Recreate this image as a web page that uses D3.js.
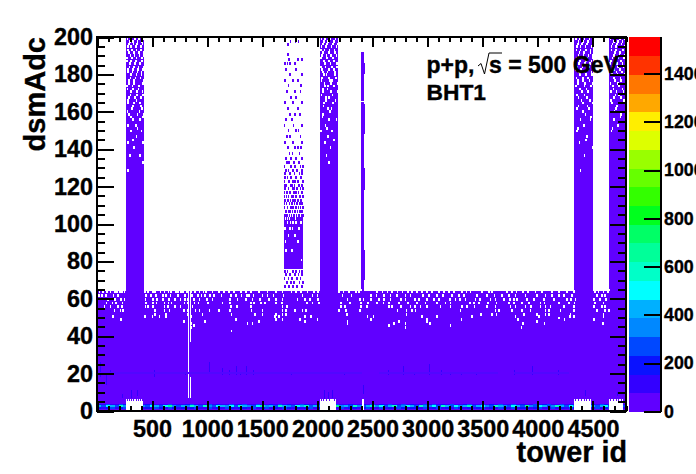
<!DOCTYPE html>
<html><head><meta charset="utf-8">
<script src="https://cdn.jsdelivr.net/npm/d3@7/dist/d3.min.js"></script>
<style>html,body{margin:0;padding:0;background:#fff;overflow:hidden}svg{display:block}
text{font-family:"Liberation Sans",Arial,sans-serif;font-weight:bold;fill:#000;stroke:#000;stroke-width:.35px}</style></head>
<body><svg id="c" width="696" height="474"></svg>
<script>
const xMajor=[0,500,1000,1500,2000,2500,3000,3500,4000,4500];
const xLabels=[500,1000,1500,2000,2500,3000,3500,4000,4500];
const yMajor=[0,20,40,60,80,100,120,140,160,180,200];
const zMajor=[0,200,400,600,800,1000,1200,1400];
const palette=["#6000ff","#3300ff","#0a12ff","#0048ff","#0088ff","#00b0ff","#00ffff","#00ffc8","#00ff99","#00ff66","#00ff1e","#33ff00","#66ff00","#99ff00","#ddff00","#ffee00","#ffa800","#ff7700","#ff3300","#ff0000"];
const zMax=1552;

// filled blocks: tower from, tower to, adc from, adc to
const fieldBlock=[0,4800,0,64];
const towerBlocks=[[263,426,64,200],[2020,2183,64,200],[4330,4500,64,200],[4647,4800,64,200],[1694,1866,76,102]];
const thinBlocks=[[2398,2420,64,165],[2398,2420,166,192],[2412,2430,70,86],[2412,2430,118,130],[2412,2430,148,164],[2412,2430,180,186]];
const emptyBoxes=[[263,420],[2020,2173],[2400,2420],[4330,4480],[4647,4770]];
const boxTop=6.4;
const whiteLines=[[822,832,7,64],[842,852,7,18],[842,852,37,64]];

// white specks inside filled blocks
const speckAdc=[64,63,61,59,57,55,53,51,50,49,48,47,46,45,44,42];
const speckTowers=[
[6,30,60,95,125,160,175,190,205,222,240,440,462,480,505,530,560,590,612,630,655,680,700,735,760,790,825,850,870,900,935,950,985,1010,1060,1105,1120,1150,1190,1220,1255,1290,1310,1350,1380,1400,1430,1480,1520,1550,1585,1625,1660,1700,1740,1770,1810,1850,1880,1920,1955,1990,2195,2215,2250,2300,2330,2352,2385,2500,2520,2560,2600,2640,2700,2740,2790,2830,2880,2925,2965,3010,3060,3115,3170,3210,3270,3320,3360,3400,3470,3520,3590,3640,3700,3745,3780,3830,3880,3920,3985,4040,4100,4160,4215,4270,4310,4505,4530,4555,4590,4620,4640],
[15,45,82,115,157,175,200,217,242,429,453,498,519,568,604,640,664,707,725,755,773,809,846,882,921,960,981,1042,1102,1147,1193,1238,1298,1344,1389,1465,1540,1616,1676,1757,1797,1842,1902,1963,1999,2189,2228,2280,2340,2370,2536,2582,2627,2672,2718,2763,2814,2853,2899,2944,2989,3035,3095,3140,3186,3231,3306,3346,3382,3488,3548,3578,3714,3759,3799,3859,3901,3971,4031,4122,4182,4258,4318,4511,4542,4587,4632],
[12,39,72,142,181,435,483,528,589,619,658,725,791,855,906,942,972,1020,1057,1123,1208,1253,1304,1353,1374,1413,1495,1540,1594,1685,1857,1948,1993,2219,2301,2476,2530,2597,2657,2712,2793,2838,2953,3005,3075,3134,3216,3276,3321,3442,3533,3599,3669,3729,3790,3880,3986,4061,4122,4182,4227,4303,4527,4572,4602],
[91,157,211,242,432,498,538,592,643,701,749,791,815,870,921,991,1042,1202,1268,1344,1404,1474,1555,1616,1676,1812,1878,1927,1999,2265,2379,2410,2476,2551,2597,2657,2748,2793,2875,2914,2989,3050,3095,3195,3246,3285,3336,3427,3466,3563,3608,3684,3738,3774,3805,3895,3956,4046,4137,4258,4295,4333,4502,4557,4611],
[79,133,166,223,438,498,532,604,640,670,785,821,876,915,997,1132,1202,1389,1419,1480,1516,1616,1670,1896,1948,2008,2204,2289,2385,2452,2536,2591,2642,2733,2814,2899,2974,3080,3155,3201,3376,3412,3457,3539,3617,3729,3774,3850,3910,4016,4052,4182,4273,4324,4511,4587],
[60,115,181,217,432,453,498,604,634,701,749,860,1208,1262,1389,1676,1715,2204,2240,2385,2440,2642,2672,2748,2838,2875,2929,2989,3110,3201,3306,3352,3418,3533,3608,3744,3790,3880,3931,4016,4061,4107,4227,4320,4502,4572,4602],
[151,205,229,519,604,649,779,815,885,921,1012,1102,1202,1395,1495,1676,1706,1788,1857,1887,2189,2249,2379,2718,2802,2853,2883,3291,3608,3638,3759,3850,3925,4061,4091,4197,4321,4527,4602,4641],
[519,619,815,951,1214,1425,1495,1616,1676,1706,2259,2802,3478,3578,3617,3865,3986,4061,4091,4288,4587],
[136,429,495,561,619,846,1606,1646,1933,1878,2446,2500,2944,3080,3397,3790,4001,4318,4285,4587],
[4182],
[211,840,1253,1616,1676,1836,1993,2476,2989,3300,3814,4233,4502],
[779,972,1465,1878,2733,2989,3986,2265],
[846,1359,1404,2265,2687,2793,3013,3859,4052,4581],
[870,2642,3200],
[846,2793,3844],
[1214]];

// white specks high up in the tall tower blocks
const topAdc=[197,194,191,188,185,182,179,176,173,170,167,164,161,158,155,152,149,146,143,140,136,132,128];
const topTowers=[
[290,320,360,400,2050,2090,2140,4360,4400,4450,4680,4720,4760],
[270,300,345,390,2030,2070,2120,2165,4345,4380,4425,4480,4660,4700,4780],
[280,330,375,415,2045,2100,2150,4370,4410,4470,4690,4740],
[265,310,350,400,2025,2080,2130,4350,4395,4440,4490,4670,4725,4775],
[290,340,385,2060,2110,2170,4365,4420,4465,4650,4710,4760],
[270,320,365,410,2035,2095,2140,4340,4385,4450,4685,4735],
[300,350,395,2050,2075,2155,4375,4430,4485,4665,4715,4785],
[280,330,420,2030,2105,2125,4355,4405,4460,4695,4750],
[265,315,375,2060,2090,2145,4335,4415,4475,4675,4730],
[300,355,405,2040,2115,2175,4390,4445,4655,4705,4770],
[285,340,390,2070,2100,4360,4435,4685,4745],
[270,330,380,2055,2135,4405,4490,4665,4725],
[310,400,2085,2120,4350,4455,4700],
[280,360,415,2040,4425,4750],
[320,385,2100,2165,4380,4470,4680],
[270,345,2065,4410,4720],
[395,300,2025,2125,4345,4660],
[350,2090,4440],
[275,410,2060,4370],
[330,2110,4490],
[385,290,2075,4415],
[410,2100],
[270,4380]];
const topAdc2=[198.5,195.5,192.5,189.5,186.5,183.5,180.5,177.5,174.5,171.5,168.5,165.5,162.5,159.5,156.5,150.5,144.5];
const topTowers2=[
[268,305,338,372,412,2028,2064,2112,2158,4338,4372,4418,4462,4652,4692,4738,4782],
[282,325,358,405,2042,2082,2132,2176,4355,4392,4438,4488,4672,4712,4752],
[272,312,350,392,2024,2058,2104,2148,4342,4382,4428,4472,4662,4702,4768],
[295,335,380,418,2036,2076,2118,2168,4362,4408,4452,4494,4682,4732,4778],
[266,302,348,402,2052,2096,2142,4335,4378,4432,4478,4656,4696,4748],
[286,328,370,416,2026,2068,2126,2172,4352,4398,4458,4676,4722,4772],
[274,315,362,398,2044,2086,2152,4368,4412,4482,4666,4708,4756],
[298,342,388,2034,2098,2162,4344,4402,4448,4686,4742],
[282,328,408,2056,2116,2178,4358,4422,4492,4654,4718,4790],
[268,318,368,2046,2084,4374,4436,4678,4762],
[296,358,412,2030,2128,4346,4416,4698,4728],
[276,352,2072,2156,4388,4468,4658,4774],
[322,392,2048,4362,4444,4710],
[268,378,2108,4402,4690],
[302,408,2038,4476,4744],
[362,2078,4356,4670],
[318,2142,4428]];

// white specks in the solid part of the block near tower 1800
const midAdc=[100,97,93,90,85,80];
const midTowers=[[1720,1748,1770,1800,1845],[1700,1745,1765,1825],[1790,1730],[1815,1702],[1710,1760],[1850]];
// its purple points above and below the block
const sparseAdc=[197,195,190,187,185,182,179,176,173,170,167,164,161,158,155,152,149,146,143,140,137,134,132,130,128,126,124,122,120,118,116,114,112,110,108,106,104,102,74,72,70,68,66];
const sparseTowers=[
[1748,1793,1820],[1725],[1725],[1736,1814,1850],[1700,1720,1746,1790],[1710,1800],[1745,1855],[1700,1770,1815],[1730,1845],[1715,1790,1840],[1750,1800],
[1700,1770,1850],[1725,1815],[1745,1790,1835],[1710,1760],[1695,1775,1855],[1730,1800,1820],[1715,1745,1840],[1700,1770,1850],[1725,1790,1815,1845],[1740,1765,1830],
[1705,1750,1800,1855],[1715,1735,1780,1825],[1695,1755,1790,1840,1860],[1710,1730,1770,1810,1850],[1700,1745,1785,1830,1855],[1720,1755,1800,1845,1698],[1695,1735,1770,1815,1860,1788],
[1710,1750,1785,1825,1850,1700,1765],[1700,1730,1765,1805,1840,1860,1782],[1715,1745,1780,1820,1855,1695,1800],[1695,1730,1760,1800,1835,1860,1712,1775],
[1700,1725,1748,1770,1792,1818,1845],[1712,1738,1760,1785,1808,1832,1852,1695],[1695,1722,1750,1772,1798,1822,1840,1862],[1706,1730,1742,1765,1790,1812,1835,1855],[1698,1716,1738,1756,1778,1802,1828,1848,1864],[1694,1712,1730,1750,1768,1786,1806,1824,1842,1858],
[1700,1720,1770,1800,1830,1855],[1710,1745,1790,1820,1850],[1695,1730,1760,1810,1840],[1715,1750,1780,1830,1860],[1700,1735,1770,1805,1850]];

// hit counts of the lowest rows, one value per 40 towers
const lowAdc3=[180,90,240,120,90,260,180,90,300,120,90,180,280,90,120,90,240,120,90,90,180,260,90,140,90,280,120,180,90,90,240,90,160,300,90,120,260,90,90,180,120,280,90,160,90,90,240,180,90,120,300,90,180,90,260,120,90,220,90,90,180,120,300,90,160,90,280,90,120,240,90,180,90,90,260,120,300,90,180,90,240,90,120,160,280,90,90,260,120,180,90,300,90,140,260,90,180,120,90,280,90,160,240,90,120,300,90,180,90,260,90,120,200,90,300,180,90,120,90,90];
const lowAdc2=[420,300,520,460,280,600,380,300,440,520,340,300,480,420,300,540,640,380,300,460,340,560,440,300,620,380,300,500,420,340,480,300,600,440,360,300,520,680,340,420,300,560,460,340,300,520,400,620,300,440,340,560,300,480,640,340,420,300,560,380,300,460,620,340,500,300,420,580,300,360,520,440,300,600,380,340,480,300,560,420,300,540,360,460,620,300,400,520,340,300,580,440,360,300,500,420,300,640,380,300,540,460,300,360,600,420,300,520,340,480,300,560,420,300,460,540,300,380,300,300];
const lowAdc1=[220,120,180,260,120,200,300,120,160,240,120,180,120,260,200,120,300,160,120,220,120,180,260,120,140,240,120,200,120,280,160,120,220,180,120,300,120,160,240,120,200,120,260,180,120,220,120,160,280,120,200,120,240,180,120,300,120,160,220,120,180,260,120,140,240,120,200,120,280,160,120,220,180,120,300,120,160,240,120,200,120,260,180,120,220,120,160,280,120,200,120,240,180,120,300,120,160,220,120,180,260,120,140,240,120,200,120,280,160,120,220,180,120,300,120,160,240,120,120,120];
const lowBin=40;

// faint darker hits further up: tower, adc from, adc to
const faintHits=[[30,18,26],[85,14,20],[115,20,22],[520,18,22],[800,19,21],[1020,20,26],[1130,19,23],[1195,19,22],[1260,19,24],[1300,19,21],[1350,19,24],[1420,19,22],[1600,20,21],[1760,19,21],[1890,20,21],[2060,6,11],[2100,6,10],[2130,7,11],[2240,19,21],[2415,9,14],[2640,19,22],[2780,19,24],[2880,19,21],[3010,19,25],[3120,19,22],[3200,19,21],[3300,19,21],[3440,19,21],[3780,19,22],[3950,19,24],[4180,19,22],[4430,8,11],[4720,8,10],[230,7,9],[310,7,11],[360,8,11]];
const faintRuns=[[2,2400,20],[140,520,20],[620,1000,20],[1020,1500,20],[1640,1980,20],[2560,3640,20],[3780,4280,20]];
// purple teeth on top of the empty boxes
const boxTeeth=[270,290,310,330,350,370,390,410,2030,2055,2080,2105,2150,4340,4365,4390,4415,4440,4465,4655,4680,4705,4730,4755];

const PURPLE=palette[0];
const svg=d3.select("#c");
const x=d3.scaleLinear().domain([0,4800]).range([97,626]);
const y=d3.scaleLinear().domain([0,200]).range([411,37]);
const zy=d3.scaleLinear().domain([0,zMax]).range([411.5,37]);
const color=d3.scaleQuantize().domain([0,zMax]).range(palette);

const plot=svg.append("g").attr("shape-rendering","crispEdges");
const block=(g,rows,fill)=>g.selectAll(null).data(rows).enter().append("rect")
  .attr("x",d=>x(d[0])).attr("width",d=>x(d[1])-x(d[0]))
  .attr("y",d=>y(d[3])).attr("height",d=>y(d[2])-y(d[3])).attr("fill",fill);
const cells=(g,adcs,towers,fill,w,h)=>{
  const rows=adcs.flatMap((a,i)=>towers[i].map(t=>[t,t+w,a,a+h]));
  block(g,rows,fill);
};
block(plot,[fieldBlock],PURPLE);
block(plot,towerBlocks,PURPLE);
block(plot,thinBlocks,PURPLE);
cells(plot,sparseAdc,sparseTowers,PURPLE,15,1.6);
cells(plot,midAdc,midTowers,"#fff",14,1.5);
cells(plot,speckAdc,speckTowers,"#fff",15,1.5);
cells(plot,topAdc,topTowers,"#fff",16,1.5);
cells(plot,topAdc2,topTowers2,"#fff",14,1.2);
block(plot,whiteLines,"#fff");

// low rows
[[lowAdc3,3],[lowAdc2,2],[lowAdc1,1]].forEach(([vals,a])=>{
  plot.selectAll(null).data(vals).enter().append("rect")
   .attr("x",(d,i)=>x(i*lowBin)).attr("width",x(lowBin)-x(0)+.5)
   .attr("y",y(a+1)).attr("height",y(a)-y(a+1)).attr("fill",d=>color(d));
});
block(plot,faintHits.map(d=>[d[0],d[0]+9,d[1],d[2]]),palette[1]);
block(plot,faintRuns.map(d=>[d[0],d[1],d[2],d[2]+.6]),"#5206ff");
block(plot,emptyBoxes.map(d=>[d[0],d[1],0,boxTop]),"#fff");
block(plot,boxTeeth.map(t=>[t,t+9,5.4,boxTop]),PURPLE);

// axes
function styleAxis(g){g.select(".domain").remove();
 g.selectAll("line").attr("stroke","#000").attr("stroke-width",2).attr("shape-rendering","crispEdges");
 g.selectAll("text").attr("font-size",23.4);}
const xMinor=d3.range(0,4801,100), yMinor=d3.range(0,201,5);
const ax=svg.append("g");
ax.append("g").attr("transform","translate(0,411)").call(d3.axisBottom(x).tickValues(xMinor).tickSize(-5).tickFormat("")).call(styleAxis);
ax.append("g").attr("transform","translate(0,411)").call(d3.axisBottom(x).tickValues(xMajor).tickSize(-10).tickPadding(9).tickFormat(d=>xLabels.includes(d)?d:"")).call(styleAxis);
ax.append("g").attr("transform","translate(0,37)").call(d3.axisTop(x).tickValues(xMinor).tickSize(-5).tickFormat("")).call(styleAxis);
ax.append("g").attr("transform","translate(0,37)").call(d3.axisTop(x).tickValues(xMajor).tickSize(-10).tickFormat("")).call(styleAxis);
ax.append("g").attr("transform","translate(97,0)").call(d3.axisLeft(y).tickValues(yMinor).tickSize(-8).tickFormat("")).call(styleAxis);
ax.append("g").attr("transform","translate(97,0)").call(d3.axisLeft(y).tickValues(yMajor).tickSize(-17).tickPadding(4).tickFormat(d=>d)).call(styleAxis);
ax.append("g").attr("transform","translate(626,0)").call(d3.axisRight(y).tickValues(yMinor).tickSize(-8).tickFormat("")).call(styleAxis);
ax.append("g").attr("transform","translate(626,0)").call(d3.axisRight(y).tickValues(yMajor).tickSize(-16).tickFormat("")).call(styleAxis);
// frame
svg.append("rect").attr("x",97).attr("y",37).attr("width",529).attr("height",374).attr("fill","none").attr("stroke","#000").attr("stroke-width",2.4).attr("shape-rendering","crispEdges");

// colour bar
const bar=svg.append("g").attr("shape-rendering","crispEdges");
bar.selectAll("rect").data(palette).enter().append("rect")
 .attr("x",629).attr("width",31)
 .attr("y",(d,i)=>zy((i+1)*zMax/20)).attr("height",zy(0)-zy(zMax/20)+.5).attr("fill",d=>d);
svg.append("line").attr("x1",661).attr("x2",661).attr("y1",37).attr("y2",412).attr("stroke","#000").attr("stroke-width",2).attr("shape-rendering","crispEdges");
const zAxis=svg.append("g").attr("transform","translate(661,0)").call(d3.axisRight(zy).tickValues(zMajor).tickSize(-17).tickPadding(4).tickFormat(d=>d)).call(styleAxis);
zAxis.selectAll("text").attr("font-size",17.8).attr("x",3);

// titles
svg.append("text").attr("x",627).attr("y",462).attr("text-anchor","end").attr("font-size",28.8).text("tower id");
svg.append("text").attr("transform","translate(45,37) rotate(-90)").attr("text-anchor","end").attr("font-size",29).text("dsmAdc");
svg.append("text").attr("x",426.5).attr("y",73).attr("font-size",23).text("p+p,");
svg.append("path").attr("d","M478 66L481 63.5L484.5 74L489 53H502").attr("fill","none").attr("stroke","#000").attr("stroke-width",1);
svg.append("text").attr("x",489).attr("y",73).attr("font-size",23).text("s = 500 GeV");
svg.append("text").attr("x",426.5).attr("y",100).attr("font-size",22.8).text("BHT1");
</script></body></html>
